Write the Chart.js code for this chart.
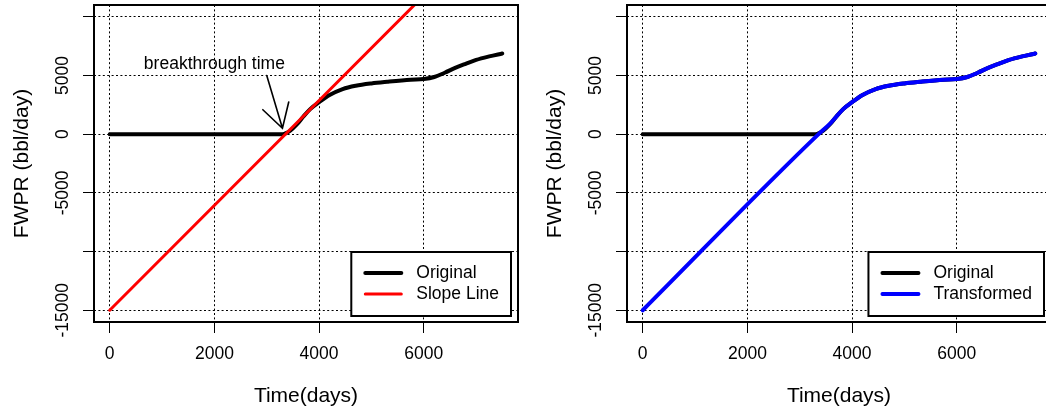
<!DOCTYPE html>
<html>
<head>
<meta charset="utf-8">
<script src="https://cdn.jsdelivr.net/npm/chart.js@4.4.1/dist/chart.umd.min.js"></script>
<style>
  html, body { margin: 0; padding: 0; background: #fff; overflow: hidden; }
  #wrap { position: relative; width: 1046px; height: 410px; overflow: hidden; background: #fff; }
  canvas { position: absolute; top: 0; }
  #leftChart { left: 0; }
  #rightChart { left: 533px; }
</style>
</head>
<body>
<div id="wrap">
  <canvas id="leftChart" width="533" height="410"></canvas>
  <canvas id="rightChart" width="533" height="410"></canvas>
</div>
<script>
const FONT = "'Liberation Sans', Arial, Helvetica, sans-serif";
const TEXT_SIZE = 17.5;
Chart.defaults.font.family = FONT;
Chart.defaults.color = "#000";

// data
const timeDays = [0, 3300, 3450, 3570, 3700, 3830, 4000, 4200, 4450, 4700, 5000, 5300, 5750, 6000, 6200, 6400, 6600, 6800, 7000, 7250, 7500];
const originalFwpr = [0, 0, 300, 800, 1500, 2130, 2720, 3330, 3840, 4120, 4320, 4460, 4640, 4700, 4870, 5230, 5640, 5990, 6320, 6620, 6870];
const slopeTime = [0, 7500];
const slopeFwpr = [-15000, 18500];
const transformedTime = [0, 3360, 3570, 3700, 3830, 4000, 4200, 4450, 4700, 5000, 5300, 5750, 6000, 6200, 6400, 6600, 6800, 7000, 7250, 7500];
const transformedFwpr = [-15000, 0, 850, 1500, 2130, 2720, 3330, 3840, 4120, 4320, 4460, 4640, 4700, 4870, 5230, 5640, 5990, 6320, 6620, 6870];

const xTicks = [0, 2000, 4000, 6000];
const yTicks = [-15000, -10000, -5000, 0, 5000, 10000];
const yTickLabels = ["-15000", "", "-5000", "0", "5000", ""];
const xRange = [-300, 7800];
const yRange = [-16000, 11000];

const annotationText = "breakthrough time";
const annotationAt = [2000, 6000];
const arrowFrom = [3000, 5000];
const arrowTo = [3300, 500];

const toPoints = (xs, ys) => xs.map((x, i) => ({ x: x, y: ys[i] }));

// box around the plot region (R style)
const boxPlugin = {
  id: "box",
  afterDraw: (chart) => {
    const { ctx, chartArea } = chart;
    ctx.save();
    ctx.strokeStyle = "#000";
    ctx.lineWidth = 2;
    ctx.strokeRect(chartArea.left, chartArea.top, chartArea.right - chartArea.left, chartArea.bottom - chartArea.top);
    ctx.restore();
  },
};

// rotated y tick labels, like R's las=0
const yLabelPlugin = {
  id: "yLabels",
  afterDraw: (chart) => {
    const { ctx, chartArea, scales } = chart;
    ctx.save();
    ctx.font = TEXT_SIZE + "px " + FONT;
    ctx.fillStyle = "#000";
    ctx.textAlign = "center";
    ctx.textBaseline = "middle";
    yTicks.forEach((v, i) => {
      if (!yTickLabels[i]) return;
      ctx.save();
      ctx.translate(chartArea.left - 30.5, scales.y.getPixelForValue(v));
      ctx.rotate(-Math.PI / 2);
      ctx.fillText(yTickLabels[i], 0, 0);
      ctx.restore();
    });
    ctx.restore();
  },
};

// bottomright legend with a box
const legendPlugin = {
  id: "rLegend",
  afterDraw: (chart) => {
    const { ctx, chartArea } = chart;
    const items = chart.data.datasets;
    ctx.save();
    ctx.font = TEXT_SIZE + "px " + FONT;
    const textW = Math.max(...items.map((it) => ctx.measureText(it.label).width));
    const w = 65 + textW + 12;
    const h = 64;
    const left = chartArea.right - 7 - w;
    const top = chartArea.bottom - 6 - h;
    ctx.fillStyle = "#fff";
    ctx.fillRect(left, top, w, h);
    ctx.strokeStyle = "#000";
    ctx.lineWidth = 2;
    ctx.strokeRect(left, top, w, h);
    items.forEach((it, i) => {
      const y = top + 21 + i * 21;
      ctx.beginPath();
      ctx.strokeStyle = it.borderColor;
      ctx.lineWidth = it.borderWidth;
      ctx.lineCap = "round";
      ctx.moveTo(left + 14, y);
      ctx.lineTo(left + 50, y);
      ctx.stroke();
      ctx.fillStyle = "#000";
      ctx.textAlign = "left";
      ctx.textBaseline = "middle";
      ctx.fillText(it.label, left + 65, y);
    });
    ctx.restore();
  },
};

// "breakthrough time" text and arrow
const annotationPlugin = {
  id: "breakthrough",
  afterDraw: (chart) => {
    const { ctx, scales } = chart;
    const px = (p) => [scales.x.getPixelForValue(p[0]), scales.y.getPixelForValue(p[1])];
    const [tx, ty] = px(annotationAt);
    const [x0, y0] = px(arrowFrom);
    const [x1, y1] = px(arrowTo);
    ctx.save();
    ctx.font = TEXT_SIZE + "px " + FONT;
    ctx.fillStyle = "#000";
    ctx.textAlign = "center";
    ctx.textBaseline = "middle";
    ctx.fillText(annotationText, tx, ty);
    ctx.strokeStyle = "#000";
    ctx.lineWidth = 1.6;
    ctx.lineCap = "round";
    const ang = Math.atan2(y1 - y0, x1 - x0);
    const head = 27;
    ctx.beginPath();
    ctx.moveTo(x0, y0);
    ctx.lineTo(x1, y1);
    ctx.moveTo(x1 - head * Math.cos(ang - Math.PI / 6), y1 - head * Math.sin(ang - Math.PI / 6));
    ctx.lineTo(x1, y1);
    ctx.lineTo(x1 - head * Math.cos(ang + Math.PI / 6), y1 - head * Math.sin(ang + Math.PI / 6));
    ctx.stroke();
    ctx.restore();
  },
};

const makeScales = () => ({
  x: {
    type: "linear",
    min: xRange[0],
    max: xRange[1],
    afterBuildTicks: (s) => {
      s.ticks = xTicks.map((v) => ({ value: v }));
    },
    afterFit: (s) => {
      s.height = 88;
    },
    grid: { color: "#000", lineWidth: 1, tickLength: 11, tickColor: "#000", tickWidth: 1 },
    border: { display: false, dash: [2, 2.4] },
    ticks: { font: { size: TEXT_SIZE }, padding: 11, autoSkip: false, maxRotation: 0, callback: (v) => String(v) },
    title: { display: true, text: "Time(days)", font: { size: 21 }, padding: { top: 0, bottom: 1 } },
  },
  y: {
    type: "linear",
    min: yRange[0],
    max: yRange[1],
    afterBuildTicks: (s) => {
      s.ticks = yTicks.map((v) => ({ value: v }));
    },
    afterFit: (s) => {
      s.width = 94;
    },
    grid: { color: "#000", lineWidth: 1, tickLength: 11, tickColor: "#000", tickWidth: 1 },
    border: { display: false, dash: [2, 2.4] },
    ticks: { display: false },
    title: { display: true, text: "FWPR (bbl/day)", font: { size: 21 }, padding: { top: 10, bottom: 0 } },
  },
});

const lineStyle = {
  pointRadius: 0,
  fill: false,
  cubicInterpolationMode: "monotone",
  borderCapStyle: "round",
  borderJoinStyle: "round",
};

const drawChart = (id, datasets, extraPlugins) => {
  new Chart(document.getElementById(id), {
    type: "line",
    data: { datasets: datasets },
    options: {
      responsive: false,
      animation: false,
      events: [],
      layout: { padding: { left: 0, top: 5, right: 15, bottom: 0 } },
      scales: makeScales(),
      plugins: { legend: { display: false }, tooltip: { enabled: false } },
    },
    plugins: [boxPlugin, yLabelPlugin, ...extraPlugins, legendPlugin],
  });
};

drawChart(
  "leftChart",
  [
    { ...lineStyle, label: "Original", data: toPoints(timeDays, originalFwpr), borderColor: "#000000", borderWidth: 4, order: 2 },
    { ...lineStyle, label: "Slope Line", data: toPoints(slopeTime, slopeFwpr), borderColor: "#ff0000", borderWidth: 3, order: 1 },
  ],
  [annotationPlugin]
);

drawChart(
  "rightChart",
  [
    { ...lineStyle, label: "Original", data: toPoints(timeDays, originalFwpr), borderColor: "#000000", borderWidth: 4, order: 2 },
    { ...lineStyle, label: "Transformed", data: toPoints(transformedTime, transformedFwpr), borderColor: "#0000ff", borderWidth: 4, order: 1 },
  ],
  []
);
</script>
</body>
</html>
